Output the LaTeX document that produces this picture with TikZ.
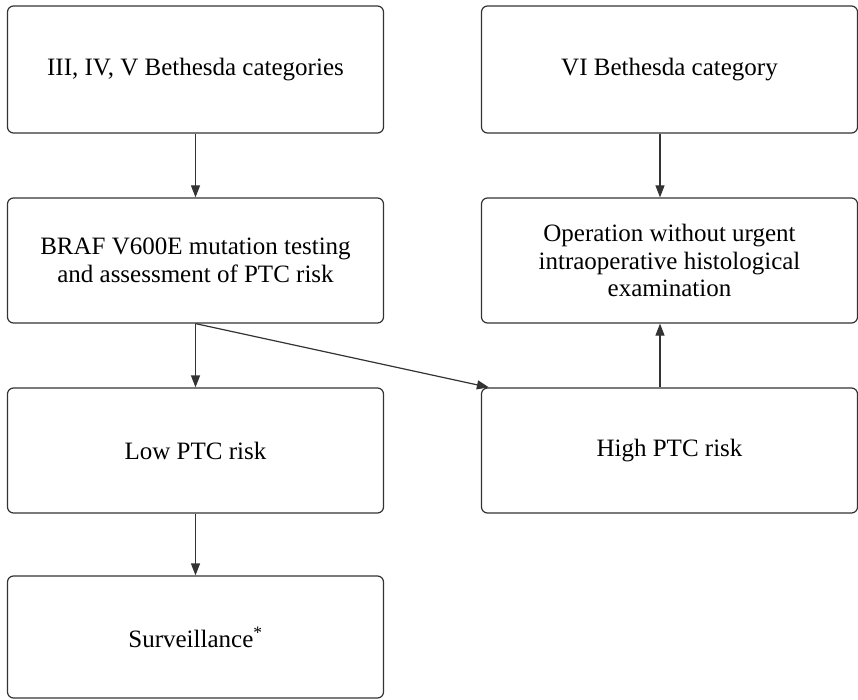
\documentclass[tikz,border=0pt]{standalone}
\usepackage{fontspec}
\setmainfont{Liberation Serif}
\usetikzlibrary{arrows.meta}

\begin{document}
\begin{tikzpicture}[x = 1pt, y = -1pt,
	box/.style = {draw = black!80, line width = 1.2pt, rounded corners = 6pt,
		minimum width = 376pt, align = center, font = \fontsize{25}{27.5}\selectfont},
	link/.style = {draw = black!80, line width = 1.2pt, -{Triangle[length = 12pt, width = 9pt]}}]
	\useasboundingbox (0, 0) rectangle (858, 700);
	% left column
	\node[box, minimum height = 127pt] (cat) at (195.5, 69.5) {III, IV, V Bethesda categories};
	\node[box, minimum height = 125pt] (braf) at (195.5, 260.5) {BRAF V600E mutation testing\\and assessment of PTC risk};
	\node[box, minimum height = 125pt] (low) at (195.5, 450.5) {Low PTC risk};
	\node[box, minimum height = 122pt] (surv) at (195.5, 637) {Surveillance\textsuperscript{*}};
	% right column
	\node[box, minimum height = 127pt] (six) at (669.5, 69.5) {VI Bethesda category};
	\node[box, minimum height = 125pt] (oper) at (669.5, 260.5) {Operation without urgent\\intraoperative histological\\examination};
	\node[box, minimum height = 125pt] (high) at (669.5, 450.5) {High PTC risk};
	% arrows
	\draw[link] (cat) -- (braf);
	\draw[link] (braf) -- (low);
	\draw[link] (low) -- (surv);
	\draw[link] (braf.south) -- ([xshift = 8pt]high.north west);
	\draw[link] ([xshift = -9.5pt]six.south) -- ([xshift = -9.5pt]oper.north);
	\draw[link] ([xshift = -9.5pt]high.north) -- ([xshift = -9.5pt]oper.south);
\end{tikzpicture}
\end{document}
